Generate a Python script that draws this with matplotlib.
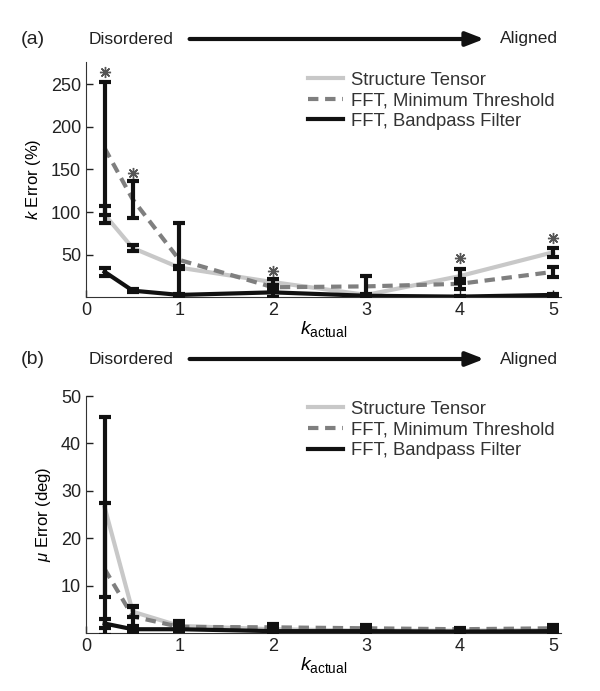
import matplotlib
matplotlib.use("Agg")
import matplotlib.pyplot as plt

plt.rcParams['font.family'] = ['Liberation Sans', 'DejaVu Sans']
plt.rcParams['mathtext.fontset'] = 'custom'
plt.rcParams['mathtext.rm'] = 'Liberation Sans'
plt.rcParams['mathtext.it'] = 'Liberation Sans:italic'
plt.rcParams['font.size'] = 12

# k_actual values
k_actual = [0.2, 0.5, 1, 2, 3, 4, 5]
x_ticks = [0, 1, 2, 3, 4, 5]

# (a) k error (%)
st_k = [97, 58, 35, 18, 3, 25, 53]
st_k_err = [10, 3, 2, 4, 1, 8, 5]
fft_k = [175, 115, 44, 12, 13, 16, 30]
fft_k_err = [78, 22, 43, 3, 12, 6, 6]
bp_k = [30, 8, 3, 6, 2, 1, 3]
bp_k_err = [5, 2, 1, 5, 1, 1, 1]
star_x_a = [0.2, 0.5, 2, 4, 5]
star_y_a = [264, 146, 31, 46, 70]
yticks_a = [50, 100, 150, 200, 250]

# (b) mu error (deg)
st_mu = [26.5, 4.5, 1.5, 0.8, 0.5, 0.5, 0.6]
st_mu_err = [19, 1.2, 1.0, 0.6, 0.3, 0.3, 0.4]
fft_mu = [13.5, 3.5, 1.3, 1.2, 1.0, 0.8, 1.0]
fft_mu_err = [14, 2, 0.7, 0.8, 0.6, 0.3, 0.6]
bp_mu = [2, 0.8, 0.8, 0.4, 0.4, 0.3, 0.4]
bp_mu_err = [1, 0.5, 0.4, 0.3, 0.3, 0.2, 0.3]
yticks_b = [10, 20, 30, 40, 50]

labels = ['Structure Tensor', 'FFT, Minimum Threshold', 'FFT, Bandpass Filter']

fig = plt.figure(figsize=(6, 6.91), dpi=100)
ax_a = fig.add_axes([0.1433, 0.5695, 0.791, 0.3408])
ax_b = fig.add_axes([0.1433, 0.0839, 0.791, 0.343])


def draw_panel(ax, st, st_err, fft, fft_err, bp, bp_err, ylim, yticks, ylabel, leg_y):
    ax.plot(k_actual, st, color='#c8c8c8', lw=3, label=labels[0], zorder=2)
    ax.plot(k_actual, fft, color='#7f7f7f', lw=3, ls=(0, (2.5, 1.6)), label=labels[1], zorder=2)
    ax.plot(k_actual, bp, color='#111111', lw=3, label=labels[2], zorder=3)
    for y, e in [(st, st_err), (fft, fft_err), (bp, bp_err)]:
        ax.errorbar(k_actual, y, yerr=e, fmt='none', ecolor='#111111',
                    elinewidth=3, capsize=4, capthick=3, zorder=4)
    ax.set_xlim(0, 5.08)
    ax.set_ylim(*ylim)
    ax.set_xticks(x_ticks)
    ax.set_yticks(yticks)
    ax.tick_params(direction='in', length=5, width=1, labelsize=13, colors='#222222')
    for s in ['top', 'right']:
        ax.spines[s].set_visible(False)
    for s in ['left', 'bottom']:
        ax.spines[s].set_color('#333333')
    ax.set_xlabel(r'$k_{\mathrm{actual}}$', fontsize=14, labelpad=0)
    ax.set_ylabel(ylabel, fontsize=12, labelpad=6)
    ax.legend(loc='upper right', bbox_to_anchor=(1.022, leg_y), frameon=False,
              fontsize=13.3, handlelength=1.9, labelspacing=0.2, handletextpad=0.4,
              labelcolor='#333333')


draw_panel(ax_a, st_k, st_k_err, fft_k, fft_k_err, bp_k, bp_k_err,
           (0, 276), yticks_a, r'$k$ Error (%)', 1.03)
ax_a.plot(star_x_a, star_y_a, ls='none', marker=(8, 2, 0), ms=8, mew=1,
          color='#555555', zorder=5)

draw_panel(ax_b, st_mu, st_mu_err, fft_mu, fft_mu_err, bp_mu, bp_mu_err,
           (0, 50), yticks_b, r'$\mu$ Error (deg)', 1.05)


def header(ax, tag, y):
    fig.text(0.035, y, tag, fontsize=14, va='center', color='#222222')
    fig.text(0.148, y, 'Disordered', fontsize=12.5, va='center', color='#222222')
    fig.text(0.93, y, 'Aligned', fontsize=12.5, va='center', ha='right', color='#222222')
    ax.annotate('', xy=(0.807, y), xytext=(0.316, y), xycoords='figure fraction',
                arrowprops=dict(arrowstyle='-|>,head_length=0.9,head_width=0.35',
                                lw=3, color='#111111', shrinkA=0, shrinkB=0))


header(ax_a, '(a)', 1 - 39 / 691)
header(ax_b, '(b)', 1 - 359 / 691)

fig.savefig('out.png', dpi=100)
